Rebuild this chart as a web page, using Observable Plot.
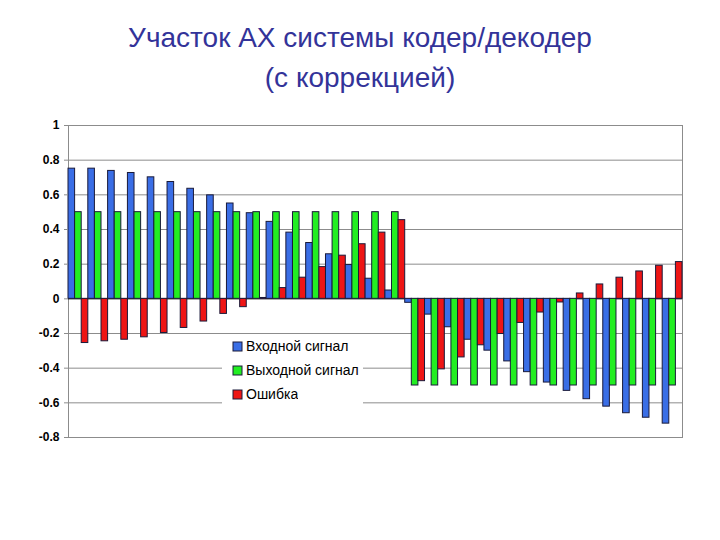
<!DOCTYPE html>
<html>
<head>
<meta charset="utf-8">
<script src="https://cdn.jsdelivr.net/npm/d3@7"></script>
<script src="https://cdn.jsdelivr.net/npm/@observablehq/plot@0.6"></script>
<style>
  body { margin: 0; background: #fff; }
  #wrap { position: relative; width: 720px; height: 540px; overflow: hidden; }
  #title { height: 110px; box-sizing: border-box; padding-top: 18px; text-align: center;
    font: 28px/40px "Liberation Sans", Arial, sans-serif; color: #333399; }
  #legendbox { position: absolute; left: 222px; top: 338px; width: 141px; height: 68px;
    background: #fff; box-sizing: border-box; padding-left: 11px; }
  .lg-swatches { margin: 0 !important; min-height: 0 !important; }
  .lg-swatch { font: 14px/16px "Liberation Sans", Arial, sans-serif; color: #000;
    padding-bottom: 8px !important; display: flex; align-items: center; }
  .lg-swatch svg { margin-right: 4px !important; overflow: visible; }
  .lg-swatch svg rect { stroke: #1a1a3a; stroke-width: 1; }
</style>
</head>
<body>
<div id="wrap">
  <div id="title">Участок АХ системы кодер/декодер<br>(с коррекцией)</div>
  <div id="chart"></div>
  <div id="legendbox"></div>
</div>
<script>
const categories = [1,2,3,4,5,6,7,8,9,10,11,12,13,14,15,16,17,18,19,20,21,22,23,24,25,26,27,28,29,30,31];
const seriesNames = ["Входной сигнал", "Выходной сигнал", "Ошибка"];
const seriesColors = ["#3a6ee6", "#22ee22", "#ee1515"];
const inputSignal = [0.751,0.751,0.738,0.726,0.701,0.674,0.635,0.597,0.550,0.494,0.444,0.382,0.322,0.257,0.195,0.116,0.048,-0.023,-0.091,-0.164,-0.236,-0.299,-0.361,-0.423,-0.483,-0.531,-0.579,-0.622,-0.660,-0.686,-0.720];
const outputSignal = [0.5,0.5,0.5,0.5,0.5,0.5,0.5,0.5,0.5,0.5,0.5,0.5,0.5,0.5,0.5,0.5,0.5,-0.5,-0.5,-0.5,-0.5,-0.5,-0.5,-0.5,-0.5,-0.5,-0.5,-0.5,-0.5,-0.5,-0.5];
const errorSignal = [-0.255,-0.245,-0.236,-0.222,-0.197,-0.168,-0.131,-0.087,-0.048,0.005,0.062,0.122,0.183,0.249,0.315,0.382,0.454,-0.475,-0.407,-0.338,-0.268,-0.203,-0.139,-0.079,-0.021,0.031,0.083,0.122,0.158,0.191,0.212];
const yTicks = [-0.8,-0.6,-0.4,-0.2,0,0.2,0.4,0.6,0.8,1];
const gridLines = [-0.6,-0.4,-0.2,0.2,0.4,0.6,0.8];

const seriesValues = [inputSignal, outputSignal, errorSignal];
const rows = [];
categories.forEach((c, i) => {
  seriesNames.forEach((s, j) => {
    rows.push({key: c + "|" + j, series: s, value: seriesValues[j][i]});
  });
});

const chart = Plot.plot({
  width: 720,
  height: 430,
  marginTop: 15,
  marginBottom: 103,
  marginLeft: 68,
  marginRight: 38,
  style: {fontFamily: "'Liberation Sans', Arial, sans-serif", background: "#fff"},
  x: {type: "band", domain: rows.map(d => d.key), padding: 0, axis: null},
  y: {domain: [-0.8, 1], axis: null},
  color: {domain: seriesNames, range: seriesColors},
  marks: [
    Plot.ruleY(gridLines, {stroke: "#8c8c8c", strokeWidth: 1}),
    Plot.frame({stroke: "#8c8c8c", strokeWidth: 1}),
    Plot.ruleY([0], {stroke: "#000", strokeWidth: 1}),
    Plot.barY(rows, {x: "key", y: "value", fill: "series", stroke: "#1a1a3a", strokeWidth: 1}),
    Plot.axisY({ticks: yTicks, tickFormat: d => String(+d.toFixed(1)), tickSize: 4, tickPadding: 5,
      label: null, fontSize: 12, fontWeight: "bold", stroke: "#8c8c8c", color: "#000"})
  ]
});
document.getElementById("chart").appendChild(chart);

const legend = Plot.legend({
  color: {domain: seriesNames, range: seriesColors},
  legend: "swatches",
  columns: 1,
  swatchSize: 9,
  className: "lg"
});
document.getElementById("legendbox").appendChild(legend);
</script>
</body>
</html>
